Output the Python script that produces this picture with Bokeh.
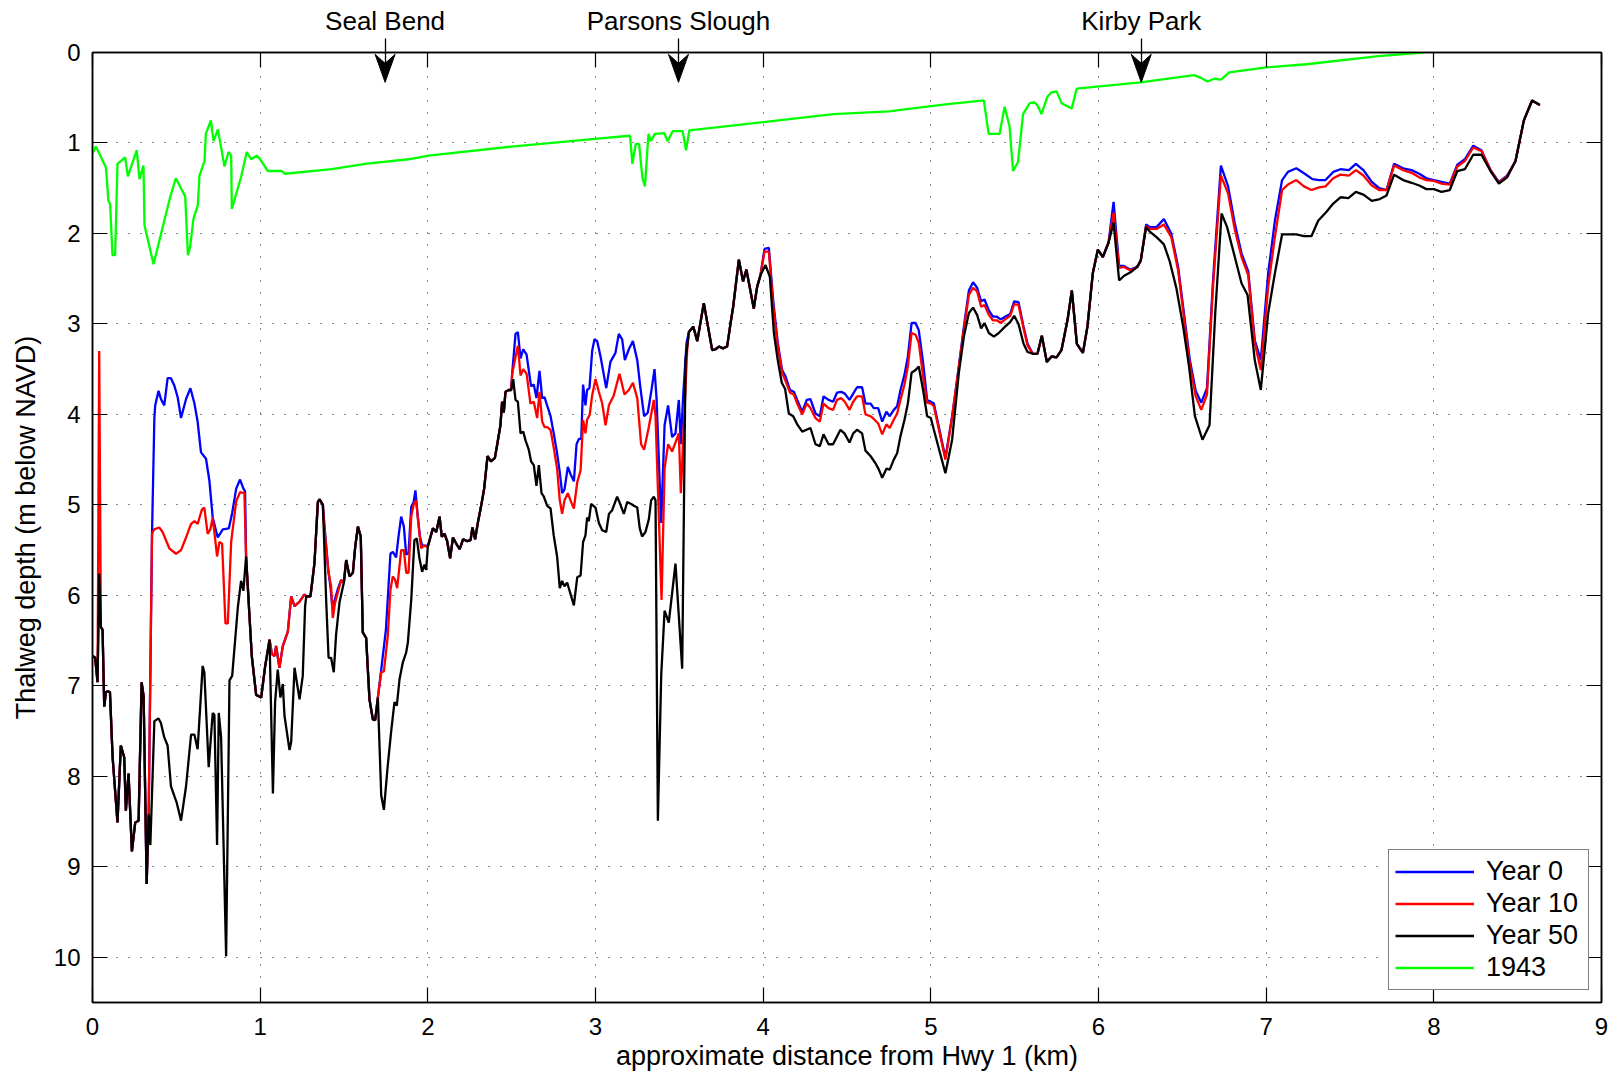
from bokeh.plotting import figure
from bokeh.models import (Range1d, FixedTicker, LinearAxis, Legend, LegendItem,
                          CustomJSTickFormatter)
from bokeh.embed import file_html
from bokeh.resources import INLINE

FONT = "Liberation Sans"

# ---------------------------------------------------------------------------
# Thalweg profiles: (distance from Hwy 1 in km, depth in m below NAVD)
# Stretches where the three model years coincide are stored once.
# ---------------------------------------------------------------------------
SHARED_A1 = [(0.000, 6.67), (0.016, 6.69), (0.030, 6.96)]
SPIKE_Y50 = [(0.040, 5.76)]
SPIKE_Y10 = [(0.040, 3.30)]
SHARED_A2 = [(0.050, 6.35), (0.060, 6.38), (0.070, 7.23), (0.080, 7.07), (0.090, 7.06),
             (0.104, 7.07), (0.120, 7.79), (0.149, 8.51), (0.169, 7.66), (0.189, 7.79),
             (0.199, 8.38), (0.215, 7.97), (0.235, 8.83), (0.255, 8.51), (0.275, 8.49),
             (0.293, 6.96), (0.305, 7.12), (0.323, 9.19), (0.335, 8.42)]

Y50_D1 = [(0.345, 8.76), (0.369, 7.39), (0.394, 7.36), (0.408, 7.41), (0.428, 7.57),
          (0.448, 7.66), (0.468, 8.11), (0.502, 8.29), (0.528, 8.49), (0.558, 8.11),
          (0.588, 7.54), (0.608, 7.54), (0.627, 7.70), (0.657, 6.78), (0.667, 6.85),
          (0.693, 7.90), (0.717, 7.30), (0.727, 7.32), (0.743, 8.76), (0.753, 7.30),
          (0.767, 7.57), (0.797, 9.99), (0.817, 6.94), (0.833, 6.89), (0.867, 6.13),
          (0.886, 5.84), (0.900, 5.95)]
Y10_D1 = [(0.355, 5.32), (0.368, 5.27), (0.398, 5.25), (0.418, 5.30), (0.458, 5.48),
          (0.498, 5.54), (0.528, 5.50), (0.558, 5.36), (0.588, 5.21), (0.608, 5.18),
          (0.627, 5.21), (0.653, 5.05), (0.667, 5.03), (0.687, 5.32), (0.703, 5.27),
          (0.717, 5.14), (0.743, 5.57), (0.757, 5.41), (0.773, 5.43), (0.793, 6.31),
          (0.807, 6.31), (0.827, 5.41), (0.857, 4.96), (0.880, 4.86), (0.906, 4.87)]
Y0_D1 = [(0.355, 5.32), (0.369, 4.04), (0.374, 3.90), (0.394, 3.74), (0.408, 3.83),
         (0.428, 3.90), (0.448, 3.60), (0.468, 3.60), (0.488, 3.68), (0.508, 3.81),
         (0.528, 4.04), (0.558, 3.83), (0.584, 3.71), (0.608, 3.88), (0.627, 4.08),
         (0.647, 4.42), (0.677, 4.49), (0.697, 4.73), (0.717, 5.14), (0.747, 5.36),
         (0.767, 5.30), (0.777, 5.27), (0.813, 5.26), (0.833, 5.09), (0.857, 4.82),
         (0.880, 4.72), (0.900, 4.82), (0.910, 4.85)]

SHARED_B = [(0.916, 5.57), (0.936, 6.22), (0.950, 6.67), (0.976, 7.10), (1.006, 7.13),
            (1.030, 6.78), (1.056, 6.49)]

Y50_D2 = [(1.076, 8.19), (1.089, 7.18), (1.105, 6.82), (1.121, 7.13), (1.135, 6.98),
          (1.145, 7.33), (1.175, 7.71), (1.185, 7.62), (1.205, 6.80), (1.235, 7.15),
          (1.254, 6.89), (1.268, 6.12)]
UPPER_D2 = [(1.070, 6.65), (1.085, 6.67), (1.095, 6.56), (1.115, 6.80), (1.135, 6.56),
            (1.165, 6.40), (1.185, 6.01), (1.205, 6.12), (1.235, 6.07), (1.264, 5.99)]

SHARED_C = [(1.275, 6.01), (1.300, 6.01), (1.324, 5.64), (1.344, 4.97), (1.354, 4.94),
            (1.374, 5.00)]

Y50_D3 = [(1.394, 6.07), (1.408, 6.69), (1.423, 6.69), (1.439, 6.85), (1.453, 6.43),
          (1.473, 6.08)]
Y10_D3 = [(1.380, 5.20), (1.408, 5.75), (1.423, 5.90), (1.433, 6.25), (1.447, 6.08),
          (1.467, 5.94), (1.483, 5.83)]
Y0_D3 = [(1.380, 5.15), (1.405, 5.70), (1.420, 5.92), (1.430, 6.12), (1.445, 6.05),
         (1.465, 5.92), (1.483, 5.83)]

SHARED_D = [(1.499, 5.86), (1.513, 5.61), (1.533, 5.79), (1.553, 5.75), (1.567, 5.46),
            (1.583, 5.24), (1.600, 5.35), (1.612, 6.41), (1.632, 6.47), (1.652, 7.15),
            (1.672, 7.37), (1.686, 7.38), (1.702, 7.13)]

Y50_D4 = [(1.722, 8.21), (1.738, 8.37), (1.761, 7.88), (1.781, 7.51), (1.801, 7.18),
          (1.815, 7.22), (1.831, 6.93), (1.851, 6.74), (1.871, 6.63), (1.881, 6.52),
          (1.901, 6.05), (1.920, 5.39), (1.934, 5.37), (1.950, 5.59), (1.966, 5.74),
          (1.980, 5.66), (1.990, 5.72)]
Y10_D4 = [(1.722, 6.85), (1.738, 6.84), (1.761, 6.45), (1.777, 5.94), (1.791, 5.79),
          (1.805, 5.83), (1.817, 5.92), (1.831, 5.68), (1.841, 5.50), (1.857, 5.50),
          (1.871, 5.75), (1.885, 5.75), (1.901, 5.13), (1.915, 5.00), (1.930, 4.95),
          (1.950, 5.32), (1.960, 5.48), (1.976, 5.45), (1.990, 5.46)]
Y0_D4 = [(1.722, 6.82), (1.750, 6.38), (1.777, 5.54), (1.791, 5.52), (1.811, 5.58),
         (1.825, 5.35), (1.841, 5.13), (1.857, 5.24), (1.871, 5.55), (1.885, 5.53),
         (1.901, 5.02), (1.915, 4.97), (1.926, 4.84), (1.940, 5.13), (1.953, 5.35),
         (1.966, 5.45), (1.990, 5.45)]

SHARED_E = [(2.000, 5.46), (2.030, 5.26), (2.050, 5.30), (2.070, 5.13), (2.083, 5.35),
            (2.100, 5.32), (2.115, 5.40), (2.133, 5.59), (2.150, 5.36), (2.170, 5.43),
            (2.190, 5.49), (2.210, 5.38), (2.235, 5.40), (2.255, 5.39), (2.266, 5.25),
            (2.282, 5.38), (2.300, 5.18), (2.316, 5.03), (2.336, 4.82), (2.356, 4.46),
            (2.376, 4.52), (2.400, 4.48), (2.414, 4.33), (2.433, 4.12), (2.443, 3.86),
            (2.453, 3.98), (2.463, 3.75), (2.483, 3.73), (2.497, 3.73)]

Y50_D5 = [(2.509, 3.61), (2.523, 3.84), (2.537, 3.86), (2.553, 4.21), (2.569, 4.19),
          (2.583, 4.29), (2.602, 4.39), (2.616, 4.52), (2.632, 4.56), (2.648, 4.79),
          (2.662, 4.56), (2.678, 4.87), (2.692, 4.91), (2.712, 5.01), (2.732, 5.04),
          (2.751, 5.34), (2.771, 5.57), (2.787, 5.92), (2.801, 5.84), (2.815, 5.90),
          (2.831, 5.86), (2.847, 5.96), (2.871, 6.11), (2.891, 5.80), (2.911, 5.78),
          (2.926, 5.41), (2.940, 5.34), (2.950, 5.14), (2.960, 5.18), (2.974, 4.99),
          (3.000, 5.03), (3.020, 5.20), (3.040, 5.28), (3.064, 5.30), (3.080, 5.10),
          (3.099, 5.06), (3.129, 4.91), (3.143, 4.97), (3.169, 5.10), (3.189, 4.97),
          (3.213, 4.99), (3.229, 5.01), (3.249, 5.03), (3.264, 5.26), (3.278, 5.35),
          (3.298, 5.30), (3.318, 5.16), (3.332, 4.95), (3.348, 4.91), (3.358, 4.95),
          (3.372, 8.49), (3.392, 6.88), (3.412, 6.17), (3.437, 6.30), (3.477, 5.65),
          (3.517, 6.81), (3.537, 3.40)]
Y10_D5 = [(2.503, 3.55), (2.537, 3.24), (2.553, 3.57), (2.569, 3.50), (2.589, 3.55),
          (2.612, 3.88), (2.632, 3.86), (2.652, 4.04), (2.666, 3.75), (2.682, 4.08),
          (2.696, 4.14), (2.712, 4.14), (2.732, 4.17), (2.751, 4.37), (2.771, 4.60),
          (2.787, 4.95), (2.801, 5.10), (2.815, 4.95), (2.835, 4.87), (2.855, 4.97),
          (2.871, 5.04), (2.891, 4.75), (2.911, 4.62), (2.926, 4.06), (2.940, 4.21),
          (2.950, 4.06), (2.966, 4.00), (2.980, 3.79), (3.000, 3.61), (3.020, 3.75),
          (3.040, 3.88), (3.060, 4.12), (3.080, 3.90), (3.109, 3.79), (3.143, 3.55),
          (3.173, 3.78), (3.199, 3.73), (3.223, 3.65), (3.249, 3.82), (3.272, 4.33),
          (3.290, 4.39), (3.318, 4.14), (3.348, 3.84), (3.358, 4.02), (3.394, 6.05),
          (3.412, 4.60), (3.433, 4.33), (3.457, 4.41), (3.477, 4.31), (3.497, 4.21),
          (3.509, 4.87), (3.547, 3.28)]
Y0_D5 = [(2.503, 3.55), (2.523, 3.11), (2.537, 3.09), (2.553, 3.38), (2.569, 3.28),
         (2.589, 3.34), (2.608, 3.59), (2.616, 3.69), (2.632, 3.67), (2.648, 3.82),
         (2.666, 3.52), (2.682, 3.82), (2.696, 3.81), (2.708, 3.88), (2.732, 4.02),
         (2.751, 4.21), (2.771, 4.43), (2.787, 4.64), (2.801, 4.87), (2.815, 4.83),
         (2.835, 4.58), (2.851, 4.66), (2.871, 4.74), (2.887, 4.33), (2.901, 4.27),
         (2.915, 4.27), (2.926, 3.67), (2.940, 3.90), (2.950, 3.73), (2.964, 3.71),
         (2.980, 3.30), (2.994, 3.17), (3.010, 3.19), (3.030, 3.36), (3.064, 3.71),
         (3.089, 3.42), (3.119, 3.32), (3.139, 3.11), (3.159, 3.17), (3.175, 3.40),
         (3.199, 3.28), (3.223, 3.19), (3.249, 3.40), (3.268, 3.71), (3.290, 4.02),
         (3.312, 3.98), (3.334, 3.73), (3.352, 3.50), (3.364, 3.82), (3.392, 5.20),
         (3.412, 4.12), (3.433, 3.90), (3.457, 4.25), (3.477, 4.21), (3.497, 3.84),
         (3.509, 4.33), (3.523, 3.79), (3.543, 3.21)]

SHARED_F = [(3.557, 3.09), (3.583, 3.03), (3.607, 3.19), (3.646, 2.77), (3.696, 3.29),
            (3.716, 3.28), (3.736, 3.25), (3.760, 3.27), (3.785, 3.25), (3.805, 3.00),
            (3.821, 2.81), (3.855, 2.29), (3.880, 2.53), (3.900, 2.40), (3.944, 2.83),
            (3.964, 2.59), (3.984, 2.46)]

Y50_D6 = [(4.014, 2.35), (4.040, 2.48), (4.064, 3.10), (4.087, 3.40), (4.111, 3.65),
          (4.131, 3.72), (4.153, 3.99), (4.179, 4.02), (4.203, 4.11), (4.233, 4.19),
          (4.282, 4.15), (4.312, 4.33), (4.338, 4.35), (4.360, 4.22), (4.390, 4.33),
          (4.417, 4.33), (4.461, 4.17), (4.485, 4.21), (4.515, 4.31), (4.537, 4.21),
          (4.560, 4.17), (4.590, 4.21), (4.610, 4.40), (4.640, 4.46), (4.670, 4.54),
          (4.690, 4.61), (4.710, 4.70), (4.735, 4.60), (4.755, 4.61), (4.779, 4.50),
          (4.799, 4.43), (4.819, 4.24), (4.843, 4.06), (4.863, 3.88), (4.885, 3.54),
          (4.909, 3.51), (4.928, 3.47), (4.954, 3.73), (4.978, 4.02), (5.000, 4.04),
          (5.018, 4.17), (5.087, 4.65), (5.127, 4.28), (5.167, 3.54), (5.197, 3.14),
          (5.227, 2.88), (5.252, 2.82), (5.276, 2.90), (5.300, 3.05), (5.320, 2.99),
          (5.346, 3.10), (5.376, 3.14), (5.405, 3.10), (5.443, 3.03), (5.473, 2.98),
          (5.497, 2.91), (5.523, 3.00), (5.553, 3.22), (5.577, 3.31)]
Y10_D6 = [(4.008, 2.20), (4.034, 2.20), (4.060, 2.80), (4.087, 3.25), (4.113, 3.54),
          (4.133, 3.63), (4.160, 3.76), (4.183, 3.78), (4.203, 3.88), (4.233, 4.00),
          (4.260, 3.88), (4.282, 3.93), (4.312, 4.04), (4.338, 4.08), (4.360, 3.88),
          (4.390, 3.93), (4.417, 3.95), (4.440, 3.84), (4.465, 3.82), (4.487, 3.86),
          (4.515, 3.95), (4.537, 3.86), (4.560, 3.80), (4.590, 3.80), (4.610, 4.00),
          (4.640, 4.02), (4.660, 4.05), (4.686, 4.10), (4.710, 4.22), (4.735, 4.11),
          (4.755, 4.15), (4.779, 4.06), (4.799, 3.99), (4.819, 3.84), (4.843, 3.67),
          (4.863, 3.47), (4.885, 3.10), (4.909, 3.12), (4.928, 3.21), (4.954, 3.58),
          (4.978, 3.87), (5.000, 3.88), (5.018, 3.91), (5.087, 4.50), (5.127, 4.03),
          (5.167, 3.48), (5.197, 3.06), (5.227, 2.68), (5.252, 2.60), (5.276, 2.64),
          (5.300, 2.81), (5.320, 2.79), (5.346, 2.90), (5.370, 2.96), (5.394, 2.96),
          (5.417, 2.99), (5.443, 2.95), (5.473, 2.91), (5.497, 2.78), (5.523, 2.79),
          (5.553, 3.05), (5.577, 3.24)]
Y0_D6 = [(4.008, 2.17), (4.034, 2.16), (4.060, 2.74), (4.087, 3.21), (4.113, 3.51),
         (4.133, 3.58), (4.160, 3.73), (4.183, 3.75), (4.203, 3.84), (4.233, 3.97),
         (4.260, 3.84), (4.282, 3.83), (4.312, 3.99), (4.338, 4.02), (4.360, 3.80),
         (4.390, 3.84), (4.417, 3.86), (4.440, 3.76), (4.465, 3.75), (4.487, 3.77),
         (4.515, 3.84), (4.537, 3.77), (4.560, 3.70), (4.590, 3.70), (4.610, 3.88),
         (4.640, 3.88), (4.660, 3.93), (4.686, 3.93), (4.710, 4.08), (4.735, 3.97),
         (4.755, 4.02), (4.779, 3.95), (4.799, 3.91), (4.819, 3.73), (4.843, 3.56),
         (4.863, 3.36), (4.885, 2.99), (4.909, 2.99), (4.928, 3.07), (4.954, 3.43),
         (4.978, 3.84), (5.000, 3.86), (5.018, 3.88), (5.087, 4.48), (5.127, 4.02),
         (5.167, 3.47), (5.197, 3.03), (5.227, 2.63), (5.252, 2.54), (5.276, 2.60),
         (5.300, 2.75), (5.320, 2.73), (5.346, 2.85), (5.370, 2.92), (5.394, 2.92),
         (5.417, 2.95), (5.443, 2.92), (5.473, 2.89), (5.497, 2.75), (5.523, 2.76),
         (5.553, 3.03), (5.577, 3.22)]

SHARED_G = [(5.608, 3.33), (5.636, 3.33), (5.662, 3.13), (5.692, 3.42), (5.720, 3.36),
            (5.750, 3.37), (5.779, 3.29), (5.815, 2.96), (5.841, 2.63), (5.871, 3.22),
            (5.907, 3.32), (5.934, 3.03), (5.966, 2.44), (5.996, 2.18), (6.026, 2.26),
            (6.060, 2.10)]

Y50_D7 = [(6.090, 1.88), (6.123, 2.52), (6.151, 2.47), (6.191, 2.43), (6.231, 2.37),
          (6.252, 2.30), (6.284, 1.93), (6.306, 1.98), (6.346, 2.04), (6.390, 2.12),
          (6.425, 2.31), (6.465, 2.61), (6.505, 3.03), (6.540, 3.47), (6.575, 4.02),
          (6.620, 4.28), (6.662, 4.12), (6.696, 2.89), (6.734, 1.78), (6.767, 1.93),
          (6.813, 2.26), (6.853, 2.55), (6.889, 2.68), (6.932, 3.40), (6.968, 3.73),
          (7.012, 2.88), (7.052, 2.44), (7.095, 2.01), (7.180, 2.01), (7.225, 2.03),
          (7.270, 2.03), (7.310, 1.86), (7.360, 1.76), (7.400, 1.67), (7.443, 1.60),
          (7.490, 1.61), (7.535, 1.54), (7.580, 1.57), (7.630, 1.64), (7.678, 1.62),
          (7.718, 1.58), (7.763, 1.35), (7.817, 1.41), (7.867, 1.44), (7.913, 1.47),
          (7.956, 1.51), (8.000, 1.51), (8.046, 1.54), (8.095, 1.52), (8.140, 1.31),
          (8.185, 1.29), (8.235, 1.13), (8.284, 1.13), (8.338, 1.31), (8.388, 1.45),
          (8.437, 1.38)]
Y10_D7 = [(6.090, 1.77), (6.123, 2.38), (6.151, 2.37), (6.191, 2.41), (6.231, 2.37),
          (6.252, 2.30), (6.284, 1.92), (6.306, 1.95), (6.346, 1.95), (6.390, 1.90),
          (6.434, 2.04), (6.475, 2.41), (6.515, 3.01), (6.545, 3.45), (6.580, 3.80),
          (6.613, 3.95), (6.647, 3.78), (6.683, 2.59), (6.730, 1.36), (6.773, 1.56),
          (6.813, 1.96), (6.853, 2.26), (6.893, 2.46), (6.932, 3.21), (6.968, 3.51),
          (7.012, 2.59), (7.052, 2.04), (7.095, 1.52), (7.130, 1.46), (7.180, 1.41),
          (7.225, 1.48), (7.270, 1.52), (7.316, 1.49), (7.354, 1.48), (7.400, 1.39),
          (7.443, 1.35), (7.493, 1.36), (7.535, 1.30), (7.580, 1.36), (7.630, 1.47),
          (7.674, 1.52), (7.718, 1.52), (7.763, 1.25), (7.817, 1.30), (7.867, 1.33),
          (7.913, 1.38), (7.956, 1.41), (8.000, 1.42), (8.046, 1.45), (8.095, 1.46),
          (8.140, 1.26), (8.185, 1.20), (8.235, 1.05), (8.284, 1.09), (8.338, 1.30),
          (8.388, 1.44), (8.437, 1.37)]
Y0_D7 = [(6.090, 1.65), (6.123, 2.36), (6.151, 2.36), (6.191, 2.40), (6.231, 2.37),
         (6.252, 2.30), (6.284, 1.90), (6.306, 1.93), (6.346, 1.93), (6.390, 1.84),
         (6.434, 2.00), (6.475, 2.37), (6.515, 2.96), (6.545, 3.40), (6.580, 3.74),
         (6.613, 3.87), (6.647, 3.71), (6.683, 2.52), (6.730, 1.25), (6.773, 1.48),
         (6.813, 1.89), (6.853, 2.22), (6.893, 2.42), (6.932, 3.18), (6.968, 3.40),
         (7.012, 2.44), (7.052, 1.86), (7.095, 1.41), (7.130, 1.32), (7.180, 1.28),
         (7.230, 1.34), (7.276, 1.40), (7.316, 1.41), (7.354, 1.41), (7.400, 1.32),
         (7.443, 1.29), (7.493, 1.30), (7.535, 1.23), (7.580, 1.30), (7.630, 1.43),
         (7.674, 1.50), (7.718, 1.52), (7.763, 1.23), (7.817, 1.28), (7.867, 1.30),
         (7.913, 1.34), (7.956, 1.39), (8.000, 1.41), (8.046, 1.43), (8.095, 1.45),
         (8.140, 1.24), (8.185, 1.18), (8.235, 1.03), (8.284, 1.08), (8.338, 1.30),
         (8.388, 1.43), (8.437, 1.36)]

SHARED_H = [(8.487, 1.20), (8.537, 0.75), (8.586, 0.53), (8.632, 0.58)]

PROFILE_1943 = [(0.000, 1.12), (0.020, 1.04), (0.036, 1.10), (0.080, 1.27), (0.095, 1.64),
                (0.105, 1.67), (0.119, 2.24), (0.135, 2.24), (0.149, 1.23), (0.195, 1.16),
                (0.211, 1.37), (0.264, 1.08), (0.280, 1.40), (0.304, 1.25), (0.310, 1.91),
                (0.364, 2.34), (0.463, 1.60), (0.497, 1.39), (0.553, 1.59), (0.569, 2.24),
                (0.582, 2.15), (0.602, 1.84), (0.628, 1.69), (0.638, 1.36), (0.668, 1.20),
                (0.676, 0.90), (0.706, 0.75), (0.722, 0.98), (0.748, 0.85), (0.787, 1.26),
                (0.811, 1.10), (0.827, 1.14), (0.831, 1.73), (0.887, 1.37), (0.920, 1.10),
                (0.946, 1.18), (0.980, 1.14), (1.000, 1.18), (1.046, 1.31), (1.129, 1.31),
                (1.149, 1.34), (1.427, 1.29), (1.626, 1.23), (1.885, 1.18), (2.004, 1.14),
                (2.500, 1.04), (3.028, 0.95), (3.206, 0.92), (3.220, 1.23), (3.240, 1.01),
                (3.260, 1.01), (3.280, 1.39), (3.295, 1.48), (3.316, 0.90), (3.330, 0.98),
                (3.354, 0.90), (3.410, 0.89), (3.430, 0.98), (3.460, 0.87), (3.520, 0.87),
                (3.540, 1.08), (3.560, 0.86), (4.000, 0.77), (4.420, 0.68), (4.750, 0.65),
                (4.880, 0.62), (5.100, 0.57), (5.316, 0.53), (5.345, 0.90), (5.410, 0.90),
                (5.440, 0.60), (5.470, 0.82), (5.490, 1.31), (5.520, 1.21), (5.550, 0.68),
                (5.590, 0.56), (5.615, 0.55), (5.635, 0.58), (5.660, 0.68), (5.695, 0.49),
                (5.720, 0.44), (5.750, 0.43), (5.780, 0.56), (5.840, 0.62), (5.870, 0.40),
                (6.250, 0.33), (6.570, 0.25), (6.610, 0.28), (6.650, 0.32), (6.690, 0.29),
                (6.730, 0.30), (6.780, 0.22), (7.000, 0.165), (7.240, 0.13), (7.670, 0.04),
                (7.940, 0.00)]

YEAR_50 = (SHARED_A1 + SPIKE_Y50 + SHARED_A2 + Y50_D1 + SHARED_B + Y50_D2 + SHARED_C
           + Y50_D3 + SHARED_D + Y50_D4 + SHARED_E + Y50_D5 + SHARED_F + Y50_D6
           + SHARED_G + Y50_D7 + SHARED_H)
YEAR_10 = (SHARED_A1 + SPIKE_Y10 + SHARED_A2 + Y10_D1 + SHARED_B + UPPER_D2 + SHARED_C
           + Y10_D3 + SHARED_D + Y10_D4 + SHARED_E + Y10_D5 + SHARED_F + Y10_D6
           + SHARED_G + Y10_D7 + SHARED_H)
YEAR_0 = (SHARED_A1 + SPIKE_Y50 + SHARED_A2 + Y0_D1 + SHARED_B + UPPER_D2 + SHARED_C
          + Y0_D3 + SHARED_D + Y0_D4 + SHARED_E + Y0_D5 + SHARED_F + Y0_D6
          + SHARED_G + Y0_D7 + SHARED_H)

SERIES = [("Year 0", YEAR_0, "#0000ff"),
          ("Year 10", YEAR_10, "#ff0000"),
          ("Year 50", YEAR_50, "#000000"),
          ("1943", PROFILE_1943, "#00ff00")]

LANDMARKS = ["Seal Bend", "Parsons Slough", "Kirby Park"]
LANDMARK_KM = [1.745, 3.495, 6.255]

X_TICKS = list(range(0, 10))
Y_TICKS = list(range(0, 11))

# ---------------------------------------------------------------------------
W, H = 1620, 1077
LEFT, RIGHT, TOP, BOTTOM = 92, 19, 52, 75

p = figure(width=W, height=H, output_backend="svg", toolbar_location=None,
           x_range=Range1d(0, 9), y_range=Range1d(10.5, 0),
           min_border_left=LEFT, min_border_right=RIGHT,
           min_border_top=TOP, min_border_bottom=BOTTOM,
           background_fill_color="white", border_fill_color="white")
p.outline_line_color = "black"
p.outline_line_width = 1.5

for ax in (p.xaxis[0], p.yaxis[0]):
    ax.major_tick_in = 15
    ax.major_tick_out = 0
    ax.minor_tick_in = 0
    ax.minor_tick_out = 0
    ax.axis_line_width = 1.5
    ax.major_tick_line_width = 1.2
    ax.major_label_text_font = FONT
    ax.major_label_text_font_size = "24px"
    ax.major_label_text_color = "black"
    ax.axis_label_text_font = FONT
    ax.axis_label_text_font_size = "27px"
    ax.axis_label_text_font_style = "normal"
    ax.axis_label_text_color = "black"

p.xaxis.ticker = FixedTicker(ticks=X_TICKS)
p.yaxis.ticker = FixedTicker(ticks=Y_TICKS)
p.xaxis.axis_label = "approximate distance from Hwy 1 (km)"
p.yaxis.axis_label = "Thalweg depth (m below NAVD)"
p.xaxis.major_label_standoff = 15
p.yaxis.major_label_standoff = 12
p.xaxis.axis_label_standoff = 3
p.yaxis.axis_label_standoff = 10

# right edge: mirrored inward ticks, no labels
right_axis = LinearAxis(ticker=FixedTicker(ticks=Y_TICKS),
                        formatter=CustomJSTickFormatter(code="return ''"),
                        major_tick_in=15, major_tick_out=0, minor_tick_in=0,
                        minor_tick_out=0, axis_line_width=1.5, major_tick_line_width=1.2,
                        major_label_standoff=0, major_label_text_font_size="1px")
p.add_layout(right_axis, "right")

# top edge: inward km ticks (minor) and the landmark names with their arrow
# shafts (major ticks crossing the frame edge)
top_axis = LinearAxis(ticker=FixedTicker(ticks=LANDMARK_KM, minor_ticks=X_TICKS),
                      major_label_overrides={k: t for k, t in zip(LANDMARK_KM, LANDMARKS)},
                      major_tick_out=14, major_tick_in=11, major_tick_line_width=1.3,
                      minor_tick_out=0, minor_tick_in=15, minor_tick_line_width=1.2,
                      axis_line_width=1.5, major_label_standoff=3,
                      major_label_text_font=FONT, major_label_text_font_size="26px",
                      major_label_text_color="black")
p.add_layout(top_axis, "above")

for g in (p.xgrid[0], p.ygrid[0]):
    g.grid_line_color = "black"
    g.grid_line_dash = "1 11"
    g.grid_line_width = 1
    g.grid_line_alpha = 0.9
p.xgrid.ticker = FixedTicker(ticks=X_TICKS)
p.ygrid.ticker = FixedTicker(ticks=Y_TICKS)

items = []
for name, pts, color in SERIES:
    xs = [k for k, _ in pts]
    ys = [d for _, d in pts]
    r = p.line(xs, ys, line_color=color, line_width=2.3)
    items.append(LegendItem(label=name, renderers=[r]))

legend = Legend(items=items, location="bottom_right", margin=12,
                label_text_font=FONT, label_text_font_size="27px",
                label_text_color="black", glyph_width=79, glyph_height=31,
                label_height=31, label_width=96, label_standoff=12, spacing=1,
                padding=6, border_line_color="black", border_line_width=1.5,
                background_fill_color="white", background_fill_alpha=1.0)
p.add_layout(legend)

# notched arrowheads at the end of each landmark shaft
frame_w = W - LEFT - RIGHT
frame_h = H - TOP - BOTTOM
km_per_px = 9.0 / frame_w
m_per_px = 10.5 / frame_h
tip_depth = 0.33
head_len, head_half, notch = 28, 10, 19
head_xs, head_ys = [], []
for km in LANDMARK_KM:
    head_xs.append([km, km - head_half * km_per_px, km, km + head_half * km_per_px])
    head_ys.append([tip_depth, tip_depth - head_len * m_per_px,
                    tip_depth - notch * m_per_px, tip_depth - head_len * m_per_px])
p.patches(head_xs, head_ys, fill_color="black", line_color="black", line_width=1)

open("out.html", "w").write(file_html(p, INLINE))
